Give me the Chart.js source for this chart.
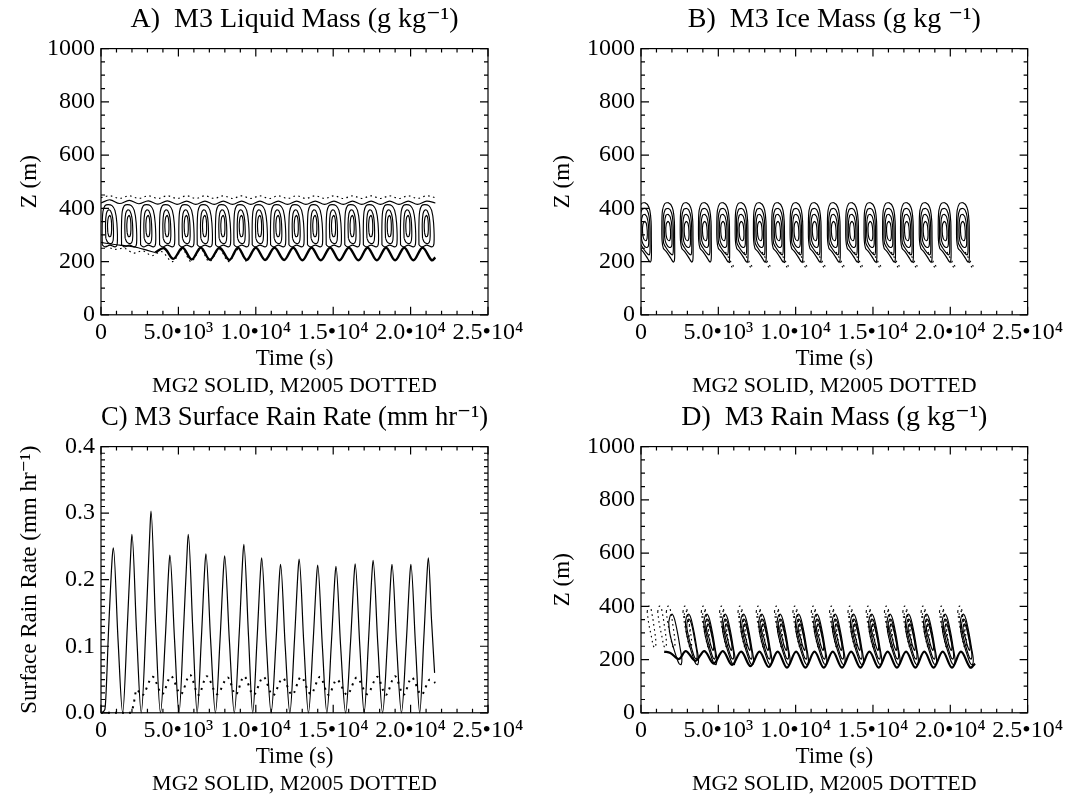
<!DOCTYPE html>
<html>
<head>
<meta charset="utf-8">
<title>M3 MG2 vs M2005</title>
<script src="https://cdn.jsdelivr.net/npm/chart.js@4.4.1/dist/chart.umd.min.js"></script>
<style>
  html, body { margin: 0; padding: 0; background: #fff; }
  #page { position: relative; width: 1067px; height: 796px; overflow: hidden; }
  #page canvas { position: absolute; }
</style>
</head>
<body>
<div id="page">
  <canvas id="panel-a" width="533" height="398" style="left:0;top:0"></canvas>
  <canvas id="panel-b" width="534" height="398" style="left:533px;top:0"></canvas>
  <canvas id="panel-c" width="533" height="398" style="left:0;top:398px"></canvas>
  <canvas id="panel-d" width="534" height="398" style="left:533px;top:398px"></canvas>
</div>
<script>
// Axis ticks
const timeTicks = [0, 5000, 10000, 15000, 20000, 25000];
const timeLabels = ['0', '5.0\u202210\u00b3', '1.0\u202210\u2074', '1.5\u202210\u2074', '2.0\u202210\u2074', '2.5\u202210\u2074'];
const zTicks = [0, 200, 400, 600, 800, 1000];
const rainTicks = [0.0, 0.1, 0.2, 0.3, 0.4];
const rainLabels = ['0.0', '0.1', '0.2', '0.3', '0.4'];

// C) surface rain rate (mm/hr), MG2 solid
const rainMG2T = [0, 250, 500, 730, 800, 1100, 1400,
  1700, 1940, 2000, 2300, 2600,
  2920, 3170, 3230, 3530, 3840,
  4150, 4390, 4450, 4750, 5040,
  5340, 5580, 5640, 5940, 6210,
  6480, 6720, 6780, 7080, 7390,
  7690, 7930, 7990, 8290, 8610,
  8930, 9170, 9230, 9530, 9800,
  10080, 10320, 10380, 10680, 10990,
  11300, 11540, 11600, 11900, 12200,
  12500, 12740, 12800, 13100, 13400,
  13700, 13940, 14000, 14300, 14590,
  14880, 15120, 15180, 15480, 15800,
  16120, 16360, 16420, 16720, 17000,
  17280, 17520, 17580, 17880, 18190,
  18500, 18740, 18800, 19100, 19410,
  19720, 19960, 20020, 20320, 20590,
  20850, 21090, 21150, 21350, 21550];
const rainMG2 = [0.0, 0.005, 0.13, 0.235, 0.248, 0.11, 0.0,
  0.13, 0.25, 0.268, 0.12, 0.0,
  0.14, 0.28, 0.303, 0.13, 0.0,
  0.11, 0.222, 0.237, 0.11, 0.0,
  0.13, 0.25, 0.268, 0.12, 0.0,
  0.11, 0.225, 0.239, 0.11, 0.0,
  0.11, 0.222, 0.236, 0.11, 0.0,
  0.12, 0.238, 0.253, 0.115, 0.0,
  0.11, 0.219, 0.233, 0.105, 0.0,
  0.105, 0.21, 0.223, 0.1, 0.0,
  0.11, 0.217, 0.231, 0.105, 0.0,
  0.105, 0.209, 0.222, 0.1, 0.0,
  0.104, 0.207, 0.22, 0.1, 0.0,
  0.106, 0.21, 0.224, 0.1, 0.0,
  0.108, 0.215, 0.229, 0.104, 0.0,
  0.105, 0.21, 0.223, 0.1, 0.0,
  0.105, 0.21, 0.223, 0.1, 0.0,
  0.11, 0.219, 0.233, 0.14, 0.06];
// C) surface rain rate, M2005 dotted
const rainM2005T = [0, 1950, 2100, 2300, 2650, 3340, 3950, 4520, 5150, 5750, 6300, 6830, 7500, 8190, 8700,
  9240, 9850, 10490, 11100, 11740, 12350, 12920, 13550, 14150, 14700, 15230, 15900, 16520, 17200,
  17850, 18400, 18990, 19550, 20070, 20700, 21250, 21600];
const rainM2005 = [0, 0, 0.012, 0.035, 0.026, 0.054, 0.028, 0.055, 0.028, 0.057, 0.027, 0.055, 0.028, 0.053, 0.027,
  0.055, 0.027, 0.054, 0.026, 0.052, 0.027, 0.054, 0.028, 0.054, 0.027, 0.05, 0.027, 0.053, 0.028,
  0.054, 0.027, 0.055, 0.027, 0.053, 0.027, 0.05, 0.045];

// A) liquid mass: cell centres (s) and contour outlines [dt (s), z (m)] around a centre
const liquidCells = [581, 1828, 3057, 4285, 5533, 6718, 7900, 9090, 10270, 11455, 12640, 13840, 15050, 16250, 17450, 18650, 19850, 21040];
const liquidLevels = [
  [[-500, 262], [-505, 330], [-455, 388], [-320, 410], [-120, 414], [130, 410], [320, 392], [445, 345], [470, 268], [330, 255], [0, 262], [-300, 255], [-500, 262]],
  [[-270, 288], [-290, 340], [-235, 380], [-110, 394], [40, 390], [170, 365], [225, 318], [205, 280], [90, 268], [-140, 272], [-270, 288]],
  [[-140, 308], [-160, 340], [-105, 366], [0, 373], [85, 356], [105, 320], [55, 296], [-60, 294], [-140, 308]]
];
const liquidTopT = [0, 581, 1200, 1828, 2440, 3057, 3670, 4285, 4910, 5533, 6125, 6718, 7310, 7900, 8495, 9090, 9680, 10270, 10860,
  11455, 12050, 12640, 13240, 13840, 14445, 15050, 15650, 16250, 16850, 17450, 18050, 18650, 19250, 19850, 20445, 21040, 21600];
const liquidTopMG2 = [420, 432, 418, 430, 417, 428, 416, 428, 415, 427, 415, 427, 415, 427, 415, 427, 415, 427, 415,
  427, 415, 427, 415, 427, 415, 427, 415, 427, 415, 427, 415, 427, 415, 427, 415, 427, 420];
const liquidTopM2005 = [440, 447, 437, 447, 437, 447, 437, 447, 437, 447, 437, 447, 437, 447, 437, 447, 437, 447, 437,
  447, 437, 447, 437, 447, 437, 447, 437, 447, 437, 447, 437, 447, 437, 447, 437, 447, 440];
const liquidEarlyT = [0, 600, 1200, 1800, 2400, 3000, 3500];
const liquidEarlyMG2 = [272, 266, 262, 258, 252, 242, 234];
const liquidBaseT = [3500, 4080, 4670, 5270, 5860, 6450, 7040, 7660, 8290, 8850, 9410, 10000, 10600,
  11210, 11830, 12420, 13010, 13600, 14200, 14800, 15400, 16010, 16630, 17220, 17820, 18410, 19000, 19590, 20180, 20770, 21360, 21600];
const liquidBaseMG2 = [234, 250, 210, 252, 208, 252, 207, 252, 206, 252, 206, 252, 206,
  252, 206, 252, 205, 252, 205, 252, 205, 252, 205, 252, 205, 252, 205, 252, 205, 252, 205, 215];
const liquidBaseM2005T = [300, 900, 1500, 2100, 2700, 3300, 3900, 4620, 5250, 5820, 6440, 7000, 7650, 8250, 8850, 9380];
const liquidBaseM2005 = [258, 246, 250, 232, 240, 222, 238, 200, 246, 200, 246, 200, 246, 200, 246, 200];

// B) ice mass
const iceCells = [258, 1764, 2954, 4134, 5317, 6506, 7687, 8870, 10058, 11240, 12470, 13655, 14840, 16040, 17200, 18410, 19637, 20820];
const iceLevels = [
  [[-22, 422], [165, 414], [313, 392], [394, 350], [409, 290], [416, 230], [394, 203], [321, 198], [165, 212], [-138, 238], [-319, 250], [-402, 278], [-416, 340], [-374, 392], [-231, 417], [-22, 422]],
  [[-22, 400], [132, 394], [264, 370], [321, 328], [328, 270], [319, 235], [264, 225], [83, 234], [-163, 254], [-304, 270], [-332, 312], [-319, 366], [-204, 395], [-22, 400]],
  [[-17, 378], [123, 368], [226, 336], [240, 290], [218, 258], [79, 253], [-127, 266], [-237, 292], [-240, 346], [-152, 374], [-17, 378]],
  [[-22, 352], [86, 343], [145, 316], [136, 287], [40, 278], [-99, 288], [-158, 312], [-136, 340], [-22, 352]]
];
const iceDotted = [[150, 236], [330, 216], [520, 196], [690, 180]];
const iceDottedLow = [[380, 200], [560, 180], [700, 172]];
const iceDottedFrom = 4;

// D) rain mass
const rainMassCells = [2196, 3273, 4457, 5640, 6830, 8010, 9190, 10380, 11570, 12750, 13940, 15120, 16300, 17490, 18670, 19860, 21040];
const rainMassLevels = [
  [[-405, 340], [-297, 366], [-162, 370], [-27, 352], [162, 302], [338, 242], [446, 202], [405, 182], [270, 184], [81, 212], [-135, 252], [-338, 300], [-405, 340]],
  [[-310, 335], [-216, 352], [-95, 348], [54, 318], [216, 268], [351, 222], [324, 202], [203, 207], [27, 237], [-162, 277], [-297, 315], [-310, 335]],
  [[-216, 322], [-135, 334], [-27, 324], [122, 288], [243, 250], [203, 234], [68, 252], [-81, 285], [-203, 308], [-216, 322]]
];
const rainMassLevelFrom = [0, 1, 2];
const rainMassBaseT = [1500, 1900, 2450, 2900, 3520, 4100, 4700, 5290, 5890, 6480, 7080, 7660, 8260, 8840, 9440, 10030, 10630, 11220,
  11820, 12400, 13000, 13590, 14190, 14770, 15370, 15950, 16550, 17140, 17740, 18320, 18920, 19510, 20110, 20690, 21290, 21600];
const rainMassBase = [230, 225, 202, 232, 195, 232, 185, 232, 180, 230, 175, 230, 172, 230, 170, 230, 170, 230,
  170, 230, 170, 230, 170, 230, 170, 230, 170, 230, 170, 230, 170, 230, 170, 230, 170, 185];
const rainMassDottedCells = [960, 1640, 2196, 3273, 4457, 5640, 6830, 8010, 9190, 10380, 11570, 12750, 13940, 15120, 16300, 17490, 18670, 19860, 21040];
const rainMassDottedLevels = [
  [[-560, 380], [-470, 400], [-360, 398], [-250, 372], [-110, 320], [0, 268], [-40, 245], [-150, 250], [-300, 290], [-460, 335], [-560, 380]],
  [[-480, 368], [-400, 384], [-310, 378], [-210, 348], [-110, 305], [-150, 288], [-260, 302], [-380, 338], [-480, 368]]
];
const rainMassDottedFrom = [0, 3];

const SERIF = '"Liberation Serif", "DejaVu Serif", serif';
const INK = '#000';

// IDL-style box: frame plus inward major/minor ticks on all four sides
const idlFrame = {
    id: 'idlFrame',
    afterDatasetsDraw(chart, args, opts) {
        const { ctx, chartArea: a } = chart;
        ctx.save();
        ctx.strokeStyle = INK;
        ctx.lineWidth = 1.2;
        ctx.strokeRect(a.left, a.top, a.right - a.left, a.bottom - a.top);
        ctx.beginPath();
        const marks = (scale, step, len) => {
            const n = Math.round((scale.max - scale.min) / step);
            for (let i = 0; i <= n; i++) {
                const p = scale.getPixelForValue(scale.min + i * step);
                if (scale.isHorizontal()) {
                    ctx.moveTo(p, a.bottom); ctx.lineTo(p, a.bottom - len);
                    ctx.moveTo(p, a.top); ctx.lineTo(p, a.top + len);
                } else {
                    ctx.moveTo(a.left, p); ctx.lineTo(a.left + len, p);
                    ctx.moveTo(a.right, p); ctx.lineTo(a.right - len, p);
                }
            }
        };
        marks(chart.scales.x, opts.xMajor, 8);
        marks(chart.scales.x, opts.xMinor, 4);
        marks(chart.scales.y, opts.yMajor, 8);
        marks(chart.scales.y, opts.yMinor, 4);
        ctx.stroke();
        ctx.restore();
    }
};
Chart.register(idlFrame);

// Helpers
function pairs(ts, vs) {
    return ts.map((t, i) => ({ x: t, y: vs[i] }));
}

function around(tc, shape) {
    return shape.map(([dt, z]) => ({ x: tc + dt, y: z }));
}

function curve(data, dotted, width, extra) {
    return Object.assign({
        data,
        showLine: true,
        pointRadius: 0,
        borderColor: INK,
        borderWidth: width || 1.15,
        borderDash: dotted ? [1.6, 3.4] : [],
        tension: 0.35,
        fill: false
    }, extra || {});
}

function panelOptions(p) {
    const tickFont = { family: SERIF, size: 24 };
    const axisFont = { family: SERIF, size: 23 };
    return {
        responsive: false,
        animation: false,
        events: [],
        layout: { padding: { left: 0, right: p.padRight, top: 0, bottom: 0 } },
        plugins: {
            legend: { display: false },
            tooltip: { enabled: false },
            title: {
                display: true, fullSize: false, text: p.title, color: INK,
                font: { family: SERIF, size: 28, weight: 'normal' },
                padding: { top: 3, bottom: 12 }
            },
            subtitle: {
                display: true, fullSize: false, position: 'bottom', text: 'MG2 SOLID, M2005 DOTTED', color: INK,
                font: { family: SERIF, size: 22, lineHeight: 1.1 },
                padding: { top: 1, bottom: 0 }
            },
            idlFrame: { xMajor: 5000, xMinor: 1000, yMajor: p.yMajor, yMinor: p.yMinor }
        },
        scales: {
            x: {
                type: 'linear', min: 0, max: 25000,
                afterFit: s => { s.height = 58; },
                afterBuildTicks: s => { s.ticks = timeTicks.map(v => ({ value: v })); },
                ticks: {
                    callback: (v, i) => timeLabels[i],
                    font: tickFont, color: INK, padding: 4, maxRotation: 0, autoSkip: false
                },
                grid: { display: false, drawTicks: false },
                border: { display: false },
                title: { display: true, text: 'Time (s)', font: axisFont, color: INK, padding: 0 }
            },
            y: {
                type: 'linear', min: p.yMin, max: p.yMax,
                afterFit: s => { s.width = p.leftW; },
                afterBuildTicks: s => { s.ticks = p.yTicks.map(v => ({ value: v })); },
                ticks: {
                    callback: (v, i) => p.yLabels[i],
                    font: tickFont, color: INK, padding: 6, autoSkip: false
                },
                grid: { display: false, drawTicks: false },
                border: { display: false },
                title: { display: true, text: p.yTitle, font: axisFont, color: INK, padding: { top: 16, bottom: 0 } }
            }
        }
    };
}

const zPanel = { yMin: 0, yMax: 1000, yTicks: zTicks, yLabels: zTicks.map(String), yMajor: 200, yMinor: 50, yTitle: 'Z (m)' };

// A) liquid mass
const liquidSets = [];
liquidLevels.forEach(shape => liquidCells.forEach(tc => liquidSets.push(curve(around(tc, shape), false))));
liquidSets.push(curve(pairs(liquidTopT, liquidTopMG2), false));
liquidSets.push(curve(pairs(liquidTopT, liquidTopM2005), true));
liquidSets.push(curve(pairs(liquidEarlyT, liquidEarlyMG2), false));
liquidSets.push(curve(pairs(liquidBaseT, liquidBaseMG2), false, 2.4));
liquidSets.push(curve(pairs(liquidBaseM2005T, liquidBaseM2005), true));

new Chart(document.getElementById('panel-a'), {
    type: 'scatter',
    data: { datasets: liquidSets },
    options: panelOptions(Object.assign({}, zPanel, { title: 'A)  M3 Liquid Mass (g kg\u207b\u00b9)', leftW: 101, padRight: 45 }))
});

// B) ice mass
const iceSets = [];
iceLevels.forEach(shape => iceCells.forEach(tc => iceSets.push(curve(around(tc, shape), false))));
iceCells.slice(iceDottedFrom).forEach(tc => {
    iceSets.push(curve(around(tc, iceDotted), true));
    iceSets.push(curve(around(tc, iceDottedLow), true));
});

new Chart(document.getElementById('panel-b'), {
    type: 'scatter',
    data: { datasets: iceSets },
    options: panelOptions(Object.assign({}, zPanel, { title: 'B)  M3 Ice Mass (g kg \u207b\u00b9)', leftW: 108, padRight: 39 }))
});

// C) surface rain rate
new Chart(document.getElementById('panel-c'), {
    type: 'scatter',
    data: {
        datasets: [
            curve(pairs(rainMG2T, rainMG2), false, 1.2, { cubicInterpolationMode: 'monotone', clip: 4 }),
            curve(pairs(rainM2005T, rainM2005), false, 2, { borderDash: [2, 5], cubicInterpolationMode: 'monotone', clip: 4 })
        ]
    },
    options: panelOptions({
        title: 'C) M3 Surface Rain Rate (mm hr\u207b\u00b9)', leftW: 101, padRight: 45,
        yMin: 0, yMax: 0.4, yTicks: rainTicks, yLabels: rainLabels, yMajor: 0.1, yMinor: 0.01,
        yTitle: 'Surface Rain Rate (mm hr\u207b\u00b9)'
    })
});

// D) rain mass
const rainMassSets = [];
rainMassLevels.forEach((shape, k) => rainMassCells.slice(rainMassLevelFrom[k]).forEach(tc => rainMassSets.push(curve(around(tc, shape), false))));
rainMassSets.push(curve(pairs(rainMassBaseT, rainMassBase), false, 2.2));
rainMassDottedLevels.forEach((shape, k) => rainMassDottedCells.slice(rainMassDottedFrom[k]).forEach(tc => rainMassSets.push(curve(around(tc, shape), true))));

new Chart(document.getElementById('panel-d'), {
    type: 'scatter',
    data: { datasets: rainMassSets },
    options: panelOptions(Object.assign({}, zPanel, { title: 'D)  M3 Rain Mass (g kg\u207b\u00b9)', leftW: 108, padRight: 39 }))
});
</script>
</body>
</html>
